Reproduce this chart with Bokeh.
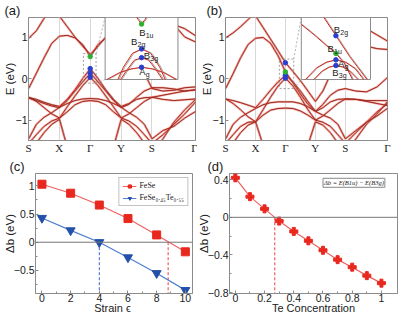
from bokeh.plotting import figure
from bokeh.models import ColumnDataSource, Range1d, FixedTicker, Label, Span, Legend, LegendItem, Title
from bokeh.layouts import column, row
from bokeh.transform import dodge
from bokeh.core.properties import value
from bokeh.embed import file_html
from bokeh.resources import INLINE

# ---------------- data: band structures (E in eV at k points) ----------------
K = [0, 0.25, 0.5, 0.75, 1, 1.25, 1.5, 1.75, 2, 2.25, 2.5, 2.75, 3, 3.25, 3.5, 3.75, 4, 4.354, 4.707, 5.061, 5.414]
K_TICKS = [0, 1, 2, 3, 4, 5.414]
K_LABELS = ["S", "X", "Γ", "Y", "S", "Γ"]
K_GAMMA = 2

a_A1 = [0.97, 1.15, 1.45, 1.75, 1.95, 1.85, 1.75, 1.68, 1.65, 1.68, 1.75, 1.85, 1.95, 1.75, 1.45, 1.15, 0.97, 1.15, 1.3, 1.2, 1.03]
a_C1 = [-0.24, 0.13, 0.5, 0.85, 1.02, 1.04, 0.98, 0.82, 0.53, 0.82, 0.98, 1.04, 1.02, 0.85, 0.5, 0.13, -0.24, -0.3, -0.28, -0.22, -0.2]
a_C2 = [2.3, 2.1, 1.9, 1.7, 1.5, 1.25, 1.0, 0.78, 0.58, 0.78, 1.0, 1.25, 1.5, 1.7, 1.9, 2.1, 2.3, 1.8, 1.3, 1.0, 0.88]
a_V1 = [-0.45, -0.5, -0.57, -0.63, -0.67, -0.5, -0.27, 0.0, 0.24, 0.0, -0.27, -0.5, -0.67, -0.6, -0.5, -0.46, -0.45, -0.5, -0.53, -0.51, -0.49]
a_V2 = [-0.47, -0.53, -0.6, -0.66, -0.7, -0.53, -0.3, -0.08, 0.13, -0.08, -0.3, -0.53, -0.7, -0.62, -0.45, -0.3, -0.22, -0.22, -0.25, -0.3, -0.27]
a_V3 = [-1.56, -1.35, -1.15, -1.02, -0.95, -0.68, -0.42, -0.17, 0.03, -0.17, -0.42, -0.68, -0.95, -1.02, -1.15, -1.35, -1.56, -1.35, -1.1, -0.85, -0.56]
a_H1 = [-1.45, -1.1, -0.93, -0.82, -0.69, -0.6, -0.53, -0.49, -0.48, -0.49, -0.53, -0.6, -0.69, -0.82, -0.93, -1.1, -1.45, -1.25, -1.15, -0.95, -0.79]
a_H2 = [-0.45, -0.55, -0.7, -0.85, -0.95, -0.8, -0.63, -0.55, -0.53, -0.55, -0.63, -0.8, -0.95, -0.85, -0.7, -0.55, -0.45, -0.4, -0.35, -0.3, -0.27]
a_D1 = [-1.8, -1.55, -1.3, -1.1, -0.98, -1.65, -2.2, -2.5, -2.6, -2.5, -2.2, -1.65, -0.98, -1.1, -1.3, -1.55, -1.8, -1.45, -1.05, -0.75, -0.5]

b_A1 = [0.98, 1.1, 1.25, 1.42, 1.6, 1.7, 1.75, 1.75, 1.75, 1.75, 1.75, 1.7, 1.6, 1.42, 1.25, 1.1, 0.98, 1.15, 1.2, 1.05, 0.9]
b_C1 = [-0.24, 0.12, 0.5, 0.82, 0.97, 0.99, 0.85, 0.55, 0.16, -0.1, -0.37, -0.62, -0.79, -0.7, -0.56, -0.5, -0.49, -0.5, -0.53, -0.53, -0.53]
b_C2 = [2.3, 2.1, 1.9, 1.7, 1.51, 1.23, 0.95, 0.67, 0.38, 0.17, -0.05, -0.3, -0.55, -0.3, 0.1, 0.5, 0.95, 0.85, 0.78, 0.72, 0.7]
b_V1 = [-0.49, -0.53, -0.58, -0.64, -0.7, -0.5, -0.28, -0.08, 0.08, -0.08, -0.3, -0.55, -0.79, -0.62, -0.4, -0.28, -0.24, -0.3, -0.32, -0.2, 0.03]
b_V2 = [-1.56, -1.35, -1.15, -1.05, -1.04, -0.75, -0.45, -0.18, 0.01, -0.18, -0.45, -0.75, -1.0, -1.05, -1.15, -1.35, -1.56, -1.3, -1.05, -0.8, -0.6]
b_H1 = [-1.45, -1.1, -0.93, -0.82, -0.72, -0.63, -0.58, -0.56, -0.56, -0.56, -0.6, -0.68, -0.79, -0.88, -0.95, -1.1, -1.45, -1.25, -1.05, -0.9, -0.71]
b_H2 = [-0.49, -0.6, -0.75, -0.92, -1.04, -0.88, -0.76, -0.72, -0.71, -0.72, -0.78, -0.88, -1.0, -0.9, -0.75, -0.6, -0.49, -0.5, -0.55, -0.6, -0.65]
b_D1 = [-1.8, -1.55, -1.3, -1.12, -1.04, -1.6, -2.1, -2.4, -2.5, -2.4, -2.1, -1.6, -1.04, -1.12, -1.3, -1.55, -1.8, -1.45, -1.1, -0.85, -0.55]

# states marked at Gamma (main panels)
a_blue_E = [0.24, 0.13, 0.03]
a_green_E = [0.53]
b_blue_E = [0.38, 0.08, 0.01]
b_green_E = [0.16]

# inset (a): k relative to Gamma, E in eV
ia_v_k = [-0.04, -0.02, 0, 0.02, 0.04]
ia_v_e = [0.64, 0.56, 0.505, 0.56, 0.64]
ia_b2g_k = [-0.13, -0.1, -0.05, 0, 0.05, 0.1, 0.13]
ia_b2g_e = [-0.13, 0.01, 0.17, 0.22, 0.17, 0.01, -0.13]
ia_b3g_k = [-0.115, -0.08, -0.04, 0, 0.04, 0.08, 0.115]
ia_b3g_e = [-0.13, -0.02, 0.09, 0.12, 0.09, -0.02, -0.13]
ia_ag_k = [-0.19, -0.12, -0.06, 0, 0.06, 0.12, 0.19]
ia_ag_e = [-0.13, -0.05, -0.01, 0.01, -0.01, -0.05, -0.13]
ia_blue_e = [0.22, 0.12, 0.01]
ia_green_e = [0.505]
ia_lab_main = ["B", "B", "B", "A"]
ia_lab_sub = ["1u", "2g", "3g", "g"]
ia_lab_k = [-0.013, -0.058, 0.012, -0.013]
ia_lab_e = [0.41, 0.30, 0.15, -0.04]

# inset (b)
ib_b2g_k = [-0.1, 0, 0.1, 0.225]
ib_b2g_e = [0.64, 0.38, 0.12, -0.164]
ib_b1u_k = [-0.25, -0.15, -0.07, 0, 0.06, 0.12]
ib_b1u_e = [0.52, 0.38, 0.26, 0.16, 0.04, -0.164]
ib_ag_k = [-0.22, -0.14, -0.07, 0, 0.07, 0.14, 0.2]
ib_ag_e = [-0.164, -0.02, 0.05, 0.08, 0.05, -0.03, -0.164]
ib_b3g_k = [-0.16, -0.1, -0.05, 0, 0.05, 0.1, 0.16]
ib_b3g_e = [-0.164, -0.06, -0.01, 0.01, -0.01, -0.06, -0.164]
ib_blue_e = [0.38, 0.08, 0.01]
ib_green_e = [0.16]
ib_lab_main = ["B", "B", "A", "B"]
ib_lab_sub = ["2g", "1u", "g", "3g"]
ib_lab_k = [-0.015, -0.06, 0.015, -0.026]
ib_lab_e = [0.46, 0.215, 0.03, -0.083]

# panel (c): gap vs strain
strain = [0, 2, 4, 6, 8, 10]
gap_fese = [1.03, 0.87, 0.66, 0.42, 0.13, -0.17]
gap_fesete = [0.43, 0.21, 0.0, -0.27, -0.55, -0.85]
cross_c = [4.0, 8.8]

# panel (d): gap vs Te concentration
te_conc = [0, 0.1, 0.2, 0.3, 0.4, 0.5, 0.6, 0.7, 0.8, 0.9, 1.0]
gap_te = [0.42, 0.22, 0.09, -0.04, -0.15, -0.25, -0.35, -0.45, -0.53, -0.62, -0.70]
cross_d = [0.27]

# ---------------- style / layout constants ----------------
AXC = "#8c8c8c"
TXT = "#1a1a1a"
TH, BH = 156, 160


def base_fig(w, h, bl, br, bt, bb, xr, yr, letter, letter_dx, xlabel=None, ylabel=None, ystand=-3):
    p = figure(width=w, height=h, x_range=Range1d(*xr), y_range=Range1d(*yr),
               output_backend="svg", toolbar_location=None, title=None,
               min_border_left=bl, min_border_right=br, min_border_top=bt, min_border_bottom=bb,
               background_fill_color="white", border_fill_color="white")
    p.outline_line_color = AXC
    for ax in p.axis:
        ax.axis_line_color = AXC
        ax.major_tick_line_color = AXC
        ax.minor_tick_line_color = AXC
        ax.major_tick_in = 3
        ax.major_tick_out = 0
        ax.minor_tick_in = 2
        ax.minor_tick_out = 0
        ax.major_label_standoff = 1
        ax.major_label_text_font_size = "10.5px"
        ax.major_label_text_color = TXT
        ax.major_label_text_font = "Liberation Sans"
        ax.axis_label_text_font = "Liberation Sans"
        ax.axis_label_text_font_style = "normal"
        ax.axis_label_text_font_size = "11.5px"
        ax.axis_label_text_color = TXT
    if ylabel:
        p.yaxis.axis_label = ylabel
        p.yaxis.axis_label_standoff = ystand
    if xlabel:
        p.xaxis.axis_label = xlabel
        p.xaxis.axis_label_standoff = -3
        p.xaxis.major_label_standoff = 0
        p.xaxis.axis_label_text_font_size = "11px"
    p.grid.visible = False
    t = Title(text=letter, align="left", offset=letter_dx, text_font="Liberation Sans",
              text_font_size="13px", text_font_style="normal", text_color=TXT, vertical_align="bottom")
    if "standoff" in Title.properties():
        t.standoff = 0
    p.add_layout(t, "above")
    return p


def inset_range(main_lo, main_hi, box_lo, box_hi, in_lo, in_hi):
    s = (in_hi - in_lo) / (box_hi - box_lo)
    return Range1d(in_lo - (box_lo - main_lo) * s, in_lo + (main_hi - box_lo) * s)


def band_panel(w, bl, br, bands, blue_e, green_e, box_fx, zoom_box, ins, ins_krange, ins_erange,
               letter, lab_dx):
    XR = (0, 5.414)
    YR = (-1.49, 1.47)
    p = base_fig(w, TH, bl, br, 13, 15, XR, YR, letter, lab_dx, ylabel="E (eV)")
    p.yaxis.ticker = FixedTicker(ticks=[-1, 0, 1])
    p.xaxis.ticker = FixedTicker(ticks=K_TICKS)
    p.xaxis.major_label_overrides = {kk: ll for kk, ll in zip(K_TICKS, K_LABELS)}
    p.xaxis.major_label_text_font = "Liberation Serif"
    p.xaxis.major_label_text_font_size = "11px"
    p.xaxis.major_tick_in = 0
    p.xgrid.visible = True
    p.xgrid.ticker = FixedTicker(ticks=K_TICKS)
    p.xgrid.grid_line_color = "#d8d8d8"

    src = ColumnDataSource(dict(k=K, **bands))
    for name in bands:
        p.line(x="k", y=name, source=src, color="#f3aaa2", line_width=2.4, line_alpha=0.7)
    for name in bands:
        p.line(x="k", y=name, source=src, color="#d42a1a", line_width=1.0)
        p.line(x=dodge("k", 0.025), y=name, source=src, color="#3a3030", line_width=0.5, line_alpha=0.75)

    p.scatter(x=[K_GAMMA] * len(blue_e), y=blue_e, size=4.5, color="#2a3fd0")
    p.scatter(x=[K_GAMMA] * len(green_e), y=green_e, size=4.5, color="#2fb02f")

    # inset box (position as fraction of frame)
    x0 = XR[0] + box_fx[0] * (XR[1] - XR[0])
    x1 = XR[0] + box_fx[1] * (XR[1] - XR[0])
    y1 = YR[1]
    y0 = YR[1] - 0.504 * (YR[1] - YR[0])
    k0, k1, e0, e1 = zoom_box
    p.quad(left=[k0], right=[k1], bottom=[e0], top=[e1], fill_alpha=0, line_color="#888888",
           line_dash="2 2", line_width=0.8)
    p.segment(x0=[k1, k1], y0=[e1, e0], x1=[x0, x0], y1=[y1, y0], line_color="#999999",
              line_dash="2 2", line_width=0.8)
    p.quad(left=[x0], right=[x1], bottom=[y0], top=[y1], fill_color="white", line_color=AXC, line_width=1)

    p.extra_x_ranges = {"ins": inset_range(XR[0], XR[1], x0, x1, *ins_krange)}
    p.extra_y_ranges = {"ins": inset_range(YR[0], YR[1], y0, y1, *ins_erange)}
    for kk, ee in ins["lines"]:
        s = ColumnDataSource(dict(k=kk, e=ee))
        p.line(x=dodge("k", 0.007), y="e", source=s, color="#a0a0a0", line_width=0.9,
               x_range_name="ins", y_range_name="ins")
        p.line(x="k", y="e", source=s, color="#d42a1a", line_width=1.0,
               x_range_name="ins", y_range_name="ins")
    p.scatter(x=[0] * len(ins["blue"]), y=ins["blue"], size=4.5, color="#2a3fd0",
              x_range_name="ins", y_range_name="ins")
    p.scatter(x=[0] * len(ins["green"]), y=ins["green"], size=4.5, color="#2fb02f",
              x_range_name="ins", y_range_name="ins")
    ls = ColumnDataSource(dict(k=ins["lk"], e=ins["le"], m=ins["lm"], s=ins["ls"]))
    p.text(x="k", y="e", text="m", source=ls, text_font=value("Liberation Sans"),
           text_font_size="9.5px", text_align="left", text_baseline="middle", text_color=TXT,
           x_range_name="ins", y_range_name="ins")
    p.text(x="k", y="e", text="s", source=ls, text_font=value("Liberation Sans"),
           text_font_size="7px", text_align="left", text_baseline="middle", text_color=TXT,
           x_offset=6.5, y_offset=3, x_range_name="ins", y_range_name="ins")
    return p


pa = band_panel(197, 25, 2,
                dict(A1=a_A1, C1=a_C1, C2=a_C2, V1=a_V1, V2=a_V2, V3=a_V3, H1=a_H1, H2=a_H2, D1=a_D1),
                a_blue_E, a_green_E, (0.459, 0.895), (1.78, 2.19, -0.11, 0.60),
                dict(lines=[(ia_v_k, ia_v_e), (ia_b2g_k, ia_b2g_e), (ia_b3g_k, ia_b3g_e), (ia_ag_k, ia_ag_e)],
                     blue=ia_blue_e, green=ia_green_e, lk=ia_lab_k, le=ia_lab_e, lm=ia_lab_main, ls=ia_lab_sub),
                (-0.2, 0.2), (-0.13, 0.58), "(a)", -24)

pb = band_panel(202, 19, 12,
                dict(A1=b_A1, C1=b_C1, C2=b_C2, V1=b_V1, V2=b_V2, H1=b_H1, H2=b_H2, D1=b_D1),
                b_blue_E, b_green_E, (0.468, 0.895), (1.80, 2.28, -0.24, 0.47),
                dict(lines=[(ib_b2g_k, ib_b2g_e), (ib_b1u_k, ib_b1u_e), (ib_ag_k, ib_ag_e), (ib_b3g_k, ib_b3g_e)],
                     blue=ib_blue_e, green=ib_green_e, lk=ib_lab_k, le=ib_lab_e, lm=ib_lab_main, ls=ib_lab_sub),
                (-0.25, 0.25), (-0.164, 0.606), "(b)", -19)

# ---------------- panel (c) ----------------
pc = base_fig(194, BH, 23, 2, 13, 20, (-0.45, 10.5), (-0.91, 1.22), "(c)", -26,
              xlabel="Strain  ϵ", ylabel="Δb (eV)", ystand=-5)
pc.xaxis.ticker = FixedTicker(ticks=[0, 2, 4, 6, 8, 10], minor_ticks=[1, 3, 5, 7, 9])
pc.yaxis.ticker = FixedTicker(ticks=[-0.5, 0, 0.5, 1], minor_ticks=[-0.75, -0.25, 0.25, 0.75])
pc.yaxis.major_label_overrides = {0: "0", 1: "1"}
pc.add_layout(Span(location=0, dimension="width", line_color="#777777", line_width=1))
pc.segment(x0=[cross_c[0]], y0=[0], x1=[cross_c[0]], y1=[-0.91], line_color="#3a66c4", line_dash="3 2", line_width=1)
pc.segment(x0=[cross_c[1]], y0=[0], x1=[cross_c[1]], y1=[-0.91], line_color="#e84040", line_dash="3 2", line_width=1)
l1 = pc.line(strain, gap_fese, color="#f06060", line_width=1.2)
s1 = pc.scatter(strain, gap_fese, marker="square", size=8, color="#e8281e")
l2 = pc.line(strain, gap_fesete, color="#4f7fd0", line_width=1.2)
s2 = pc.scatter(strain, gap_fesete, marker="inverted_triangle", size=9, color="#2350a8")
leg = Legend(items=[LegendItem(label="FeSe", renderers=[l1, s1]),
                    LegendItem(label="FeSe₀.₄₅Te₀.₅₅", renderers=[l2, s2])],
             location="top_right")
leg.label_text_font = "Liberation Serif"
leg.label_text_font_size = "8px"
leg.label_text_color = TXT
leg.glyph_width = 14
leg.glyph_height = 8
leg.label_height = 8
leg.label_standoff = 3
leg.spacing = 3
leg.padding = 3
leg.margin = 4
leg.border_line_color = "#888888"
leg.border_line_width = 1
pc.add_layout(leg)

# ---------------- panel (d) ----------------
pd_ = base_fig(205, BH, 19, 2, 13, 20, (-0.04, 1.11), (-0.81, 0.466), "(d)", -22,
               xlabel="Te Concentration", ylabel="Δb (eV)", ystand=-5)
pd_.xaxis.ticker = FixedTicker(ticks=[0, 0.2, 0.4, 0.6, 0.8, 1.0], minor_ticks=[0.1, 0.3, 0.5, 0.7, 0.9])
pd_.xaxis.major_label_overrides = {0: "0", 1: "1"}
pd_.yaxis.ticker = FixedTicker(ticks=[-0.8, -0.4, 0, 0.4], minor_ticks=[-0.6, -0.2, 0.2])
pd_.yaxis.major_label_overrides = {0: "0"}
pd_.add_layout(Span(location=0, dimension="width", line_color="#777777", line_width=1))
pd_.segment(x0=[cross_d[0]], y0=[0], x1=[cross_d[0]], y1=[-0.81], line_color="#e84040", line_dash="3 2", line_width=1)
pd_.line(te_conc, gap_te, color="#f06060", line_width=1.2)
pd_.scatter(te_conc, gap_te, marker="plus", size=8, color="#e8281e")
pd_.add_layout(Label(x=0.6, y=0.415, text="Δb = E(B1u) − E(B3g)", text_font="Liberation Serif",
                     text_font_style="italic", text_font_size="6.5px", text_baseline="top",
                     text_align="left", text_color=TXT, border_line_color="#888888",
                     background_fill_color="white", padding=1))

layout = column(row(pa, pb), row(pc, pd_))
open("out.html", "w").write(file_html(layout, INLINE))
